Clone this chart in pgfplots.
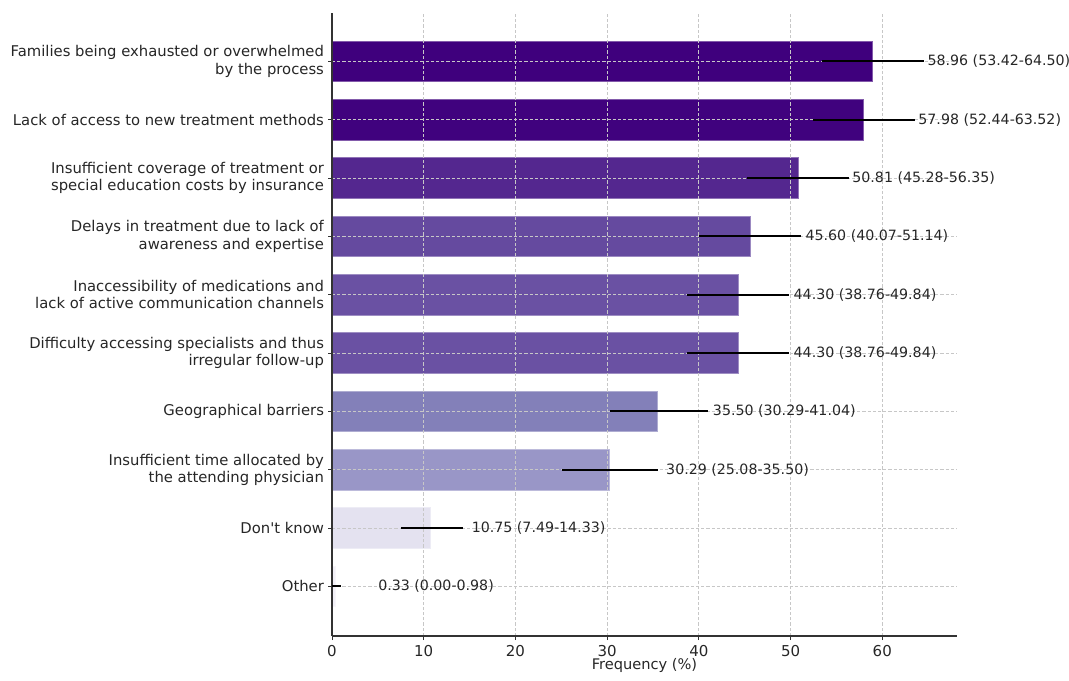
\documentclass[border=0pt]{standalone}
\usepackage{pgfplots}
\pgfplotsset{compat=1.18}
\usepackage{fontspec}
\setmainfont{DejaVu Sans}
\definecolor{c9}{HTML}{3F007D}
\definecolor{c8}{HTML}{40027E}
\definecolor{c7}{HTML}{54278F}
\definecolor{c6}{HTML}{654A9F}
\definecolor{c5}{HTML}{6A51A3}
\definecolor{c4}{HTML}{6A51A3}
\definecolor{c3}{HTML}{8380B9}
\definecolor{c2}{HTML}{9996C7}
\definecolor{c1}{HTML}{E4E2F0}
\definecolor{c0}{HTML}{F2F0F7}
\definecolor{txt}{HTML}{262626}
\pgfplotsset{
  layers/mylayers/.define layer set={axis background,bars,axis grid,axis ticks,main,axis lines,axis tick labels,axis descriptions,axis foreground}{},
  mybar/.style={xbar, bar shift=0pt, bar width=20.3pt, fill=#1, draw=#1!65!white, line width=0.4pt, on layer=bars},
}
\begin{document}
\begin{tikzpicture}
\begin{axis}[name=ax, set layers=mylayers, scale only axis, width=312.5pt, height=311.5pt,
  xmin=0, xmax=68.15, ymin=-0.85, ymax=9.83,
  axis x line*=bottom, axis y line*=left,
  axis line style={line width=0.6pt, black!80},
  xtick={0,10,...,60}, ytick={0,...,9},
  yticklabels={Other, Don\textquotesingle t know, {Insufficient time allocated by\\the attending physician}, Geographical barriers, {Difficulty accessing specialists and thus\\irregular follow-up}, {Inaccessibility of medications and\\lack of active communication channels}, {Delays in treatment due to lack of\\awareness and expertise}, {Insufficient coverage of treatment or\\special education costs by insurance}, Lack of access to new treatment methods, {Families being exhausted or overwhelmed\\by the process}},
  yticklabel style={align=right, font=\fontsize{7.4}{8.6}\selectfont, text=txt, xshift=1.5pt},
  xticklabel style={font=\fontsize{7.5}{9}\selectfont, text=txt, yshift=1pt},
  /pgf/number format/assume math mode=true,
  xlabel={Frequency (\%)}, xlabel style={font=\fontsize{7.3}{8.5}\selectfont, text=txt, yshift=3pt, inner sep=0.5pt},
  grid=major, major grid style={dash pattern=on 1.6pt off 1pt, black!22, line width=0.35pt},
  tick align=outside, major tick length=2pt, tick style={black!80, line width=0.5pt},
]
\addplot[mybar=c9] coordinates {(58.96,9)};
\addplot[mybar=c8] coordinates {(57.98,8)};
\addplot[mybar=c7] coordinates {(50.81,7)};
\addplot[mybar=c6] coordinates {(45.60,6)};
\addplot[mybar=c5] coordinates {(44.30,5)};
\addplot[mybar=c4] coordinates {(44.30,4)};
\addplot[mybar=c3] coordinates {(35.50,3)};
\addplot[mybar=c2] coordinates {(30.29,2)};
\addplot[mybar=c1] coordinates {(10.75,1)};
\addplot[mybar=c0] coordinates {(0.33,0)};
\addplot[draw=none, mark=none,
  error bars/.cd, x dir=both, x explicit, error mark=none,
  error bar style={draw=black, solid, line width=1pt}] coordinates {
(58.96,9) -= (5.54,0) += (5.54,0)
(57.98,8) -= (5.54,0) += (5.54,0)
(50.81,7) -= (5.53,0) += (5.54,0)
(45.60,6) -= (5.53,0) += (5.54,0)
(44.30,5) -= (5.54,0) += (5.54,0)
(44.30,4) -= (5.54,0) += (5.54,0)
(35.50,3) -= (5.21,0) += (5.54,0)
(30.29,2) -= (5.21,0) += (5.21,0)
(10.75,1) -= (3.26,0) += (3.58,0)
(0.33,0) -= (0.33,0) += (0.65,0)
};
\addplot[draw=none, mark=none, nodes near coords, point meta=explicit symbolic,
  nodes near coords style={anchor=west, inner sep=0pt, font=\fontsize{7.1}{8.5}\selectfont, text=txt}]
  table[col sep=comma, x=x, y=y, meta=t] {
x,y,t
64.9,9,58.96 (53.42-64.50)
63.9,8,57.98 (52.44-63.52)
56.7,7,50.81 (45.28-56.35)
51.6,6,45.60 (40.07-51.14)
50.3,5,44.30 (38.76-49.84)
50.3,4,44.30 (38.76-49.84)
41.5,3,35.50 (30.29-41.04)
36.4,2,30.29 (25.08-35.50)
15.2,1,10.75 (7.49-14.33)
5.0,0,0.33 (0.00-0.98)
};
\end{axis}
\pgfresetboundingbox
\path ([shift={(-166pt,-22pt)}]ax.south west) rectangle ([shift={(56pt,6.5pt)}]ax.north east);
\end{tikzpicture}
\end{document}
